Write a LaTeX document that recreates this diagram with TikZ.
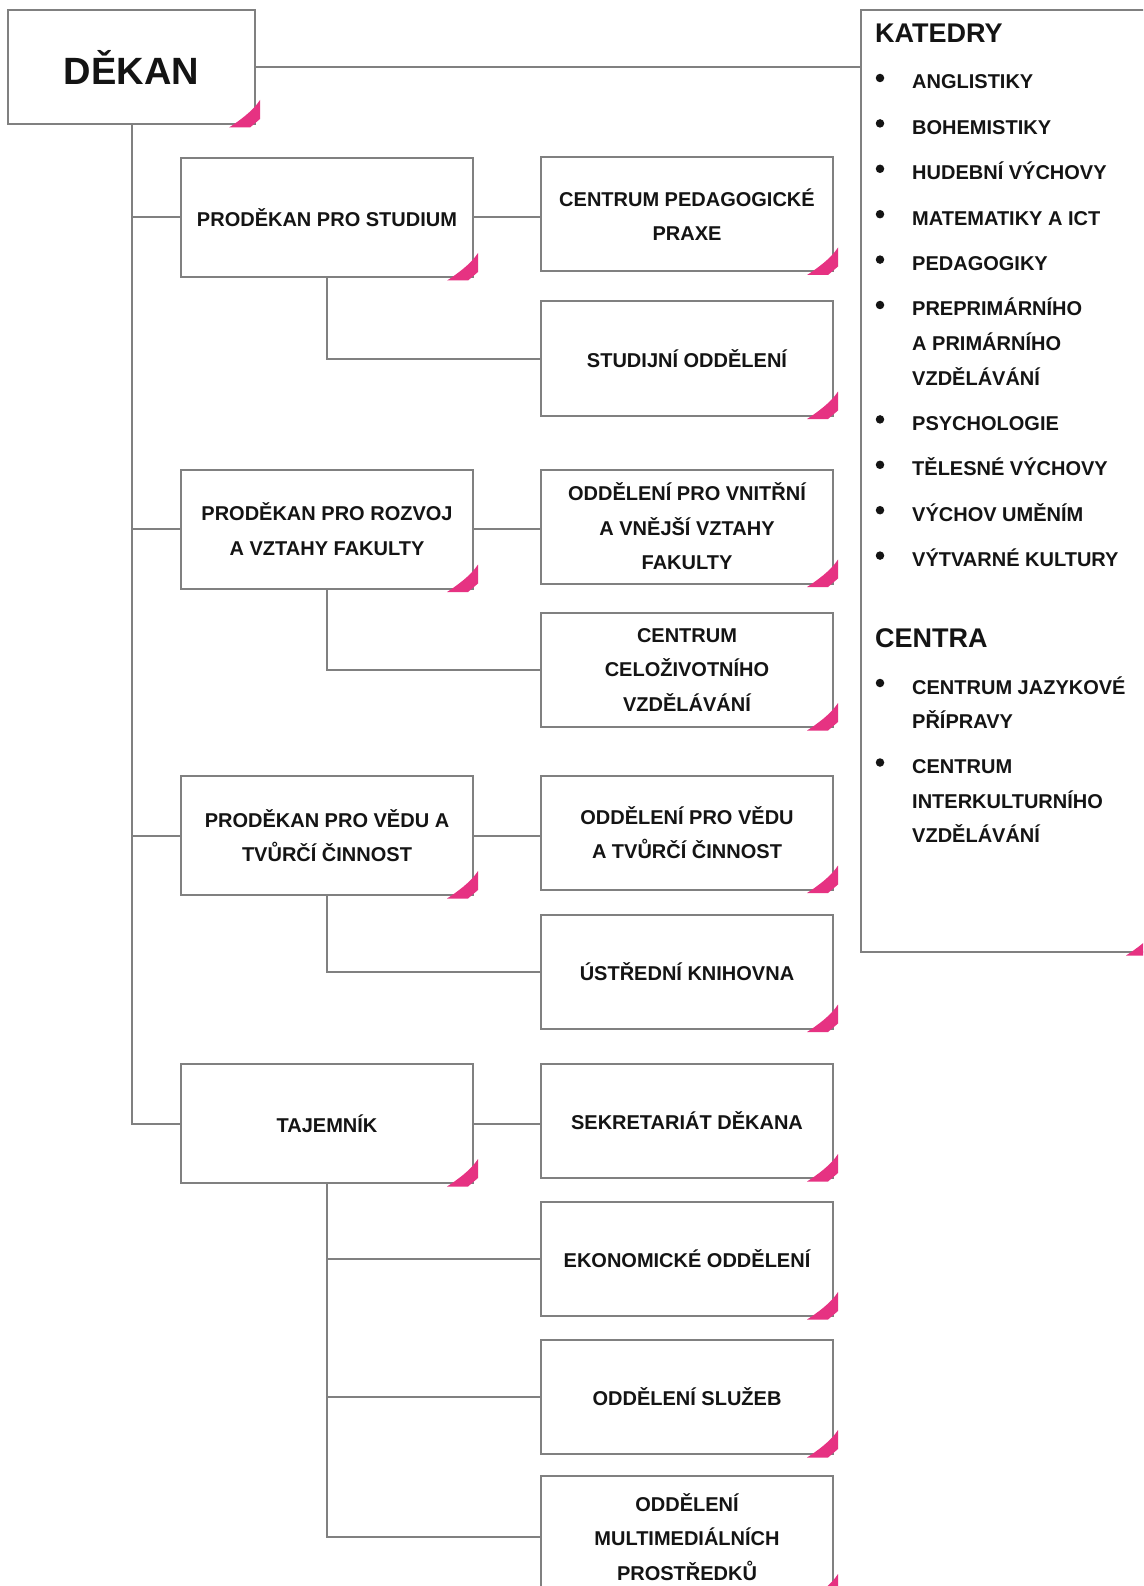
\documentclass[tikz,border=0pt]{standalone}
\usepackage{fontspec}
\setmainfont{Liberation Sans}
\definecolor{ln}{RGB}{128,128,128}
\definecolor{pk}{RGB}{230,50,130}
\definecolor{tx}{RGB}{20,20,20}
\tikzset{
  box/.style={draw=ln, line width=2pt, fill=white, align=center, inner sep=0pt, text=tx,
    font=\fontsize{20}{34.5}\selectfont\bfseries},
  lbox/.style={box, minimum width=292pt, minimum height=119pt},
  rbox/.style={box, minimum width=292pt, minimum height=114pt},
  conn/.style={draw=ln, line width=2pt},
  item/.style={anchor=base west, inner sep=0pt, text=tx, font=\fontsize{20}{24}\selectfont\bfseries},
  head/.style={anchor=base west, inner sep=0pt, text=tx, font=\fontsize{27}{30}\selectfont\bfseries},
  bul/.style={fill=tx, circle, inner sep=0pt, minimum size=8.5pt},
}
\begin{document}
\begin{tikzpicture}[x=1pt,y=-1pt]
\clip (0,0) rectangle (1143,1586);
\fill[white] (0,0) rectangle (1143,1586);

% boxes
\node[box, minimum width=247pt, minimum height=114pt, font=\fontsize{38}{40}\selectfont\bfseries] (dekan) at (131.5,67) {DĚKAN};
\node[box, minimum width=291pt, minimum height=942pt] (katedry) at (1006.5,481) {};

\node[lbox] (ps)  at (327,217.5)  {PRODĚKAN PRO STUDIUM};
\node[lbox] (pr)  at (327,529)    {PRODĚKAN PRO ROZVOJ\\A VZTAHY FAKULTY};
\node[lbox] (pv)  at (327,835.5)  {PRODĚKAN PRO VĚDU A\\TVŮRČÍ ČINNOST};
\node[lbox] (taj) at (327,1123.5) {TAJEMNÍK};

\node[rbox] (cpp) at (687,214.5)  {CENTRUM PEDAGOGICKÉ\\PRAXE};
\node[rbox] (so)  at (687,358.5)  {STUDIJNÍ ODDĚLENÍ};
\node[rbox] (ovv) at (687,526.5)  {ODDĚLENÍ PRO VNITŘNÍ\\A VNĚJŠÍ VZTAHY\\FAKULTY};
\node[rbox] (ccv) at (687,670)    {CENTRUM\\CELOŽIVOTNÍHO\\VZDĚLÁVÁNÍ};
\node[rbox] (ovt) at (687,832.5)  {ODDĚLENÍ PRO VĚDU\\A TVŮRČÍ ČINNOST};
\node[rbox] (uk)  at (687,971.5)  {ÚSTŘEDNÍ KNIHOVNA};
\node[rbox] (sek) at (687,1121)   {SEKRETARIÁT DĚKANA};
\node[rbox] (eko) at (687,1259)   {EKONOMICKÉ ODDĚLENÍ};
\node[rbox] (sl)  at (687,1397)   {ODDĚLENÍ SLUŽEB};
\node[box, minimum width=292pt, minimum height=122pt] (omp) at (687,1537) {ODDĚLENÍ\\MULTIMEDIÁLNÍCH\\PROSTŘEDKŮ};

% pink corners
\foreach \n in {dekan,katedry,ps,pr,pv,taj,cpp,so,ovv,ccv,ovt,uk,sek,eko,sl,omp}{
  \fill[pk] ([shift={(-27pt,-2.5pt)}]\n.south east)
    .. controls ([shift={(-17pt,4pt)}]\n.south east) and ([shift={(-3pt,14pt)}]\n.south east)
    .. ([shift={(4pt,25pt)}]\n.south east)
    -- ([shift={(4pt,6pt)}]\n.south east)
    -- ([shift={(-6pt,-2.5pt)}]\n.south east) -- cycle;
}

% connectors
\draw[conn] (dekan.east) -- (dekan.east -| katedry.west);
\draw[conn] (dekan.south) |- (taj.west);
\foreach \n in {ps,pr,pv}{\draw[conn] (dekan.south |- \n.west) -- (\n.west);}
\draw[conn] (ps.east) -- (ps.east -| cpp.west);
\draw[conn] (pr.east) -- (pr.east -| ovv.west);
\draw[conn] (pv.east) -- (pv.east -| ovt.west);
\draw[conn] (taj.east) -- (taj.east -| sek.west);
\draw[conn] (ps.south) |- (so.west);
\draw[conn] (pr.south) |- (ccv.west);
\draw[conn] (pv.south) |- (uk.west);
\draw[conn] (taj.south) |- (omp.west);
\draw[conn] (taj.south |- eko.west) -- (eko.west);
\draw[conn] (taj.south |- sl.west) -- (sl.west);

% KATEDRY list
\node[head] (hk) at (875,43) {KATEDRY};
\node[item] (k1)  at (912,89)    {ANGLISTIKY};
\node[item] (k2)  at (912,134.4) {BOHEMISTIKY};
\node[item] (k3)  at (912,179.8) {HUDEBNÍ VÝCHOVY};
\node[item] (k4)  at (912,225.2) {MATEMATIKY A ICT};
\node[item] (k5)  at (912,270.6) {PEDAGOGIKY};
\node[item] (k6)  at (912,316)   {PREPRIMÁRNÍHO};
\node[item] (k6b) at (912,350.5) {A PRIMÁRNÍHO};
\node[item] (k6c) at (912,385)   {VZDĚLÁVÁNÍ};
\node[item] (k7)  at (912,430.4) {PSYCHOLOGIE};
\node[item] (k8)  at (912,475.8) {TĚLESNÉ VÝCHOVY};
\node[item] (k9)  at (912,521.2) {VÝCHOV UMĚNÍM};
\node[item] (k10) at (912,566.6) {VÝTVARNÉ KULTURY};
\node[head] (hc) at (875,647.5) {CENTRA};
\node[item] (c1)  at (912,694)   {CENTRUM JAZYKOVÉ};
\node[item] (c1b) at (912,728.5) {PŘÍPRAVY};
\node[item] (c2)  at (912,773.5) {CENTRUM};
\node[item] (c2b) at (912,808)   {INTERKULTURNÍHO};
\node[item] (c2c) at (912,842.5) {VZDĚLÁVÁNÍ};
\foreach \y [count=\i] in {89,134.4,179.8,225.2,270.6,316,430.4,475.8,521.2,566.6,694,773.5}{
  \node[bul] (b\i) at (880,\y-11) {};
}
\end{tikzpicture}
\end{document}
